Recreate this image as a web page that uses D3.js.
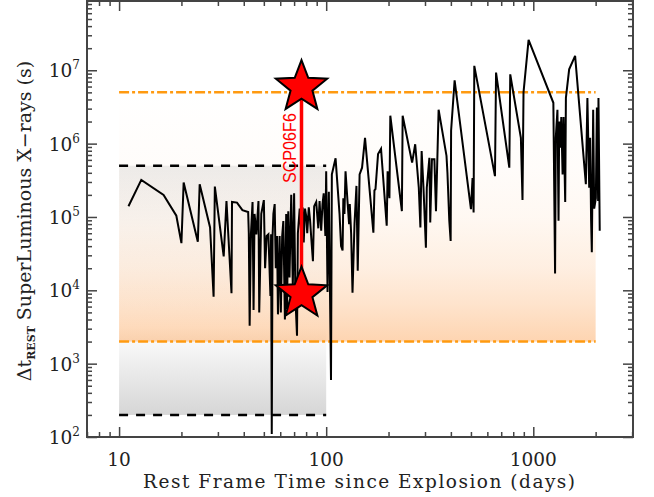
<!DOCTYPE html>
<html>
<head>
<meta charset="utf-8">
<script src="https://cdn.jsdelivr.net/npm/d3@7"></script>
<style>
  body { margin: 0; background: #fff; }
  text { font-family: "DejaVu Serif", serif; fill: #222; }
</style>
</head>
<body>
<div id="chart"></div>
<script>
// rest-frame days and Delta t (s) of the plotted curve
const days = [11.1, 12.8, 16.4, 18.9, 20.0, 20.5, 24.0, 24.5, 27.5, 28.6, 29.0, 32.0, 33.0, 34.9, 35.1,
  37.1, 39.4, 42.0, 42.3, 42.7, 43.3, 44.1, 44.6, 45.1, 46.0, 47.1, 47.5, 48.6, 50.0, 50.7, 51.6,
  52.6, 53.8, 54.2, 54.6, 55.1, 55.6, 56.4, 57.1, 57.9, 58.5, 59.6, 60.4, 61.3, 62.1, 63.2, 64.1,
  64.7, 65.6, 66.5, 67.8, 69.0, 70.0, 71.0, 72.3, 73.0, 74.5, 75.8, 77.0, 77.9, 79.0, 80.2, 81.0,
  82.4, 83.6, 84.7, 86.3, 87.5, 89.5, 91.6, 92.9, 94.6, 96.0, 97.3, 99.1, 100, 101.5, 103, 105.5,
  106.5, 111, 116, 118, 120, 121, 122.5, 124, 127, 129, 130, 132, 134, 137, 140, 142, 145, 149,
  154, 169, 171, 173, 178, 184, 196, 198, 202, 204, 232, 234, 260, 269, 280, 285, 289, 295, 303,
  306, 315, 318, 324, 333, 339, 349, 381, 385, 393, 399, 401, 417, 500, 509, 515, 519, 653, 661,
  766, 774, 871, 887, 897, 949, 1250, 1274, 1284, 1308, 1324, 1334, 1350, 1365, 1385, 1400, 1426,
  1437, 1490, 1592, 1794, 1825, 1862, 1881, 1902, 1917, 1946, 1968, 2005, 2028, 2056, 2064, 2093];
const dtRest = [1.4e5, 3.2e5, 2.0e5, 1.04e5, 4.4e4, 2.95e5, 4.6e4, 2.8e5, 7.2e4, 8.2e3, 2.6e5, 2.9e4, 1.65e5, 9.1e3, 1.6e5,
  1.57e5, 1.24e5, 1.17e5, 6.0e4, 3.3e3, 5.8e4, 1.6e5, 5.4e3, 1.1e5, 5.8e4, 1.65e5, 5.0e3, 1.1e5, 1.7e5, 2.0e4, 5.5e4,
  5.8e4, 8.4e3, 5.8e4, 110, 5.5e4, 1.1e5, 1.5e5, 2.0e4, 5.5e4, 4.7e3, 5.5e4, 5.0e3, 5.5e4, 8.8e4, 4.0e3, 1.1e5,
  5.5e3, 1.2e5, 1.5e4, 2.0e5, 1.1e4, 2.1e5, 8.0e3, 2.4e3, 6.0e4, 1.3e5, 5.8e4, 1.35e5, 4.5e4, 1.3e5, 1.0e5, 6.0e4,
  1.35e5, 9.0e4, 5.2e4, 2.5e4, 1.4e5, 1.6e5, 7.0e4, 1.65e5, 6.5e4, 1.5e5, 2.1e5, 5.5e4, 4.2e5, 9.5e3, 2.2e5, 600,
  3.8e5, 6.3e5, 1.1e5, 4.0e4, 3.5e4, 1.8e5, 1.1e5, 4.2e5, 1.5e5, 8.0e4, 1.5e5, 5.8e4, 9.3e3, 8.0e4, 2.65e5, 1.85e4, 3.8e5, 4.7e5,
  1.2e6, 6.1e4, 2.3e5, 2.4e5, 7.2e5, 8.5e5, 7.6e4, 4.2e5, 1.8e5, 2.4e6, 1.2e5, 2.4e6, 5.5e5, 9.8e5, 2.5e5, 7.2e4, 7.9e5, 2.5e5, 3.8e4,
  2.5e5, 6.4e5, 8.4e4, 6.1e5, 6.1e5, 1.2e5, 2.9e6, 6.8e5, 4.0e5, 8.9e4, 4.7e4, 1.5e6, 7.3e6, 1.28e5, 3.4e5, 1.15e5, 1.15e7, 3.6e5, 9.3e6,
  4.7e5, 8.8e6, 1.2e6, 1.7e5, 5.0e6, 2.6e7, 3.6e6, 1.7e4, 1.2e6, 2.9e6, 8.9e4, 2.0e6, 8.8e5, 2.3e6, 3.8e5, 2.3e6, 1.6e5,
  4.2e6, 1.03e7, 1.57e7, 2.8e5, 4.2e6, 2.5e5, 1.2e6, 8.9e4, 3.3e4, 2.9e6, 1.3e5, 1.8e5, 3.1e6, 1.65e5, 4.2e6, 6.5e4];

// shaded ranges
const grayBandDays = [10, 100];
const grayBandDt = [200, 5e5];
const orangeBandDays = [10, 2000];
const orangeBandDt = [2e3, 5e6];

// SCP06F6
const scpName = "SCP06F6";
const scpDay = 76;
const scpDt = [9e3, 5.9e6];

const xTicks = [10, 100, 1000];
const yTicks = [1e2, 1e3, 1e4, 1e5, 1e6, 1e7];

const margin = {top: 1, right: 21, bottom: 60, left: 87},
  width = 654 - margin.left - margin.right,
  height = 497 - margin.top - margin.bottom;

const svg = d3.select("#chart")
  .append("svg")
    .attr("width", 654)
    .attr("height", 497)
  .append("g")
    .attr("transform", `translate(${margin.left},${margin.top})`);

const x = d3.scaleLog().domain([7, 3030]).range([0, width]);
const y = d3.scaleLog().domain([100, 8.8e7]).range([height, 0]);

// gradients
const defs = svg.append("defs");
const gGray = defs.append("linearGradient").attr("id", "gray").attr("x1", 0).attr("x2", 0).attr("y1", 0).attr("y2", 1);
[[0, "#ededed"], [0.25, "#f9f9f9"], [0.65, "#ffffff"], [1, "#d6d6d6"]].forEach(s =>
  gGray.append("stop").attr("offset", s[0]).attr("stop-color", s[1]));
const gOrange = defs.append("linearGradient").attr("id", "orange").attr("x1", 0).attr("x2", 0).attr("y1", 0).attr("y2", 1);
[[0, 0], [0.3, 0.025], [0.5, 0.06], [0.7, 0.14], [0.85, 0.24], [1, 0.37]].forEach(s =>
  gOrange.append("stop").attr("offset", s[0]).attr("stop-color", "#fb8c2c").attr("stop-opacity", s[1]));

svg.append("rect")
  .attr("x", x(grayBandDays[0]))
  .attr("y", y(grayBandDt[1]))
  .attr("width", x(grayBandDays[1]) - x(grayBandDays[0]))
  .attr("height", y(grayBandDt[0]) - y(grayBandDt[1]))
  .attr("fill", "url(#gray)");

svg.append("rect")
  .attr("x", x(orangeBandDays[0]))
  .attr("y", y(orangeBandDt[1]))
  .attr("width", x(orangeBandDays[1]) - x(orangeBandDays[0]))
  .attr("height", y(orangeBandDt[0]) - y(orangeBandDt[1]))
  .attr("fill", "url(#orange)");

// band edges
svg.selectAll(".grayEdge")
  .data(grayBandDt)
  .join("line")
    .attr("x1", x(grayBandDays[0]))
    .attr("x2", x(grayBandDays[1]))
    .attr("y1", d => y(d))
    .attr("y2", d => y(d))
    .attr("stroke", "#000")
    .attr("stroke-width", 2.5)
    .attr("stroke-dasharray", "9,8");

svg.selectAll(".orangeEdge")
  .data(orangeBandDt)
  .join("line")
    .attr("x1", x(orangeBandDays[0]))
    .attr("x2", x(orangeBandDays[1]))
    .attr("y1", d => y(d))
    .attr("y2", d => y(d))
    .attr("stroke", "#ff9a10")
    .attr("stroke-width", 2.5)
    .attr("stroke-dasharray", "10,3,3,3");

// the curve
const line = d3.line()
  .x((d, i) => x(days[i]))
  .y(d => y(d));
svg.append("path")
  .datum(dtRest)
  .attr("d", line)
  .attr("fill", "none")
  .attr("stroke", "#000")
  .attr("stroke-width", 2)
  .attr("stroke-linejoin", "miter");

// SCP06F6 range
svg.append("line")
  .attr("x1", x(scpDay)).attr("x2", x(scpDay))
  .attr("y1", y(scpDt[0])).attr("y2", y(scpDt[1]))
  .attr("stroke", "#ff0000")
  .attr("stroke-width", 3.5);

svg.append("text")
  .attr("transform", `translate(${x(scpDay) - 6},${y(scpDt[1]) + 61}) rotate(-90)`)
  .attr("text-anchor", "middle")
  .style("font-family", "'Liberation Sans', Arial, sans-serif")
  .style("font-size", "17.5px")
  .style("fill", "#ff0000")
  .attr("textLength", 70)
  .attr("lengthAdjust", "spacingAndGlyphs")
  .text(scpName);

const starPts = d3.range(10).map(i => [i * Math.PI / 5, i % 2 ? 11.5 : 27]);
const star = d3.lineRadial().curve(d3.curveLinearClosed);
svg.selectAll(".star")
  .data(scpDt)
  .join("path")
    .attr("transform", d => `translate(${x(scpDay)},${y(d)})`)
    .attr("d", star(starPts))
    .attr("fill", "#ff0000")
    .attr("stroke", "#000")
    .attr("stroke-width", 2)
    .attr("stroke-linejoin", "miter");

// ticks
const xMinor = [7, 8, 9, 20, 30, 40, 50, 60, 70, 80, 90, 200, 300, 400, 500, 600, 700, 800, 900, 2000, 3000];
const yMinor = [];
[2, 3, 4, 5, 6, 7].forEach(e => d3.range(2, 10).forEach(m => yMinor.push(m * Math.pow(10, e))));

function styleAxis(g) {
  g.select(".domain").remove();
  g.selectAll("line").attr("stroke", "#444").attr("stroke-width", 1.5);
}

svg.append("g").attr("transform", `translate(0,${height})`)
  .call(d3.axisBottom(x).tickValues(xTicks).tickSize(-10).tickFormat("")).call(styleAxis);
svg.append("g").attr("transform", `translate(0,${height})`)
  .call(d3.axisBottom(x).tickValues(xMinor).tickSize(-5).tickFormat("")).call(styleAxis);
svg.append("g")
  .call(d3.axisTop(x).tickValues(xTicks).tickSize(-10).tickFormat("")).call(styleAxis);
svg.append("g")
  .call(d3.axisTop(x).tickValues(xMinor).tickSize(-5).tickFormat("")).call(styleAxis);
svg.append("g")
  .call(d3.axisLeft(y).tickValues(yTicks).tickSize(-10).tickFormat("")).call(styleAxis);
svg.append("g")
  .call(d3.axisLeft(y).tickValues(yMinor).tickSize(-5).tickFormat("")).call(styleAxis);
svg.append("g").attr("transform", `translate(${width},0)`)
  .call(d3.axisRight(y).tickValues(yTicks).tickSize(-10).tickFormat("")).call(styleAxis);
svg.append("g").attr("transform", `translate(${width},0)`)
  .call(d3.axisRight(y).tickValues(yMinor).tickSize(-5).tickFormat("")).call(styleAxis);

svg.append("rect")
  .attr("width", width).attr("height", height)
  .attr("fill", "none")
  .attr("stroke", "#444")
  .attr("stroke-width", 2);

// tick labels
svg.selectAll(".xlab")
  .data(xTicks)
  .join("text")
    .attr("x", d => x(d))
    .attr("y", height + 29)
    .attr("text-anchor", "middle")
    .style("font-size", "18.5px")
    .text(d => d);

const ylab = svg.selectAll(".ylab")
  .data(yTicks)
  .join("text")
    .attr("x", -7)
    .attr("y", d => y(d) + 7)
    .attr("text-anchor", "end")
    .style("font-size", "18.5px");
ylab.append("tspan").text("10");
ylab.append("tspan").attr("dy", -8).style("font-size", "12px").text(d => Math.round(Math.log10(d)));

// axis titles
svg.append("text")
  .attr("x", x(xTicks[0]) + 240)
  .attr("y", height + 51)
  .attr("text-anchor", "middle")
  .style("font-size", "18.5px")
  .attr("textLength", 432)
  .attr("lengthAdjust", "spacing")
  .text("Rest Frame Time since Explosion (days)");

const yt = svg.append("text")
  .attr("transform", `translate(${31 - margin.left},${221 - margin.top}) rotate(-90)`)
  .attr("text-anchor", "middle")
  .style("font-size", "19px");
yt.append("tspan").text("\u0394t");
yt.append("tspan").attr("dy", 4).style("font-size", "11px").style("font-weight", "bold").text("REST");
yt.append("tspan").attr("dy", -4).text(" SuperLuminous X\u2212rays (s)");
</script>
</body>
</html>
